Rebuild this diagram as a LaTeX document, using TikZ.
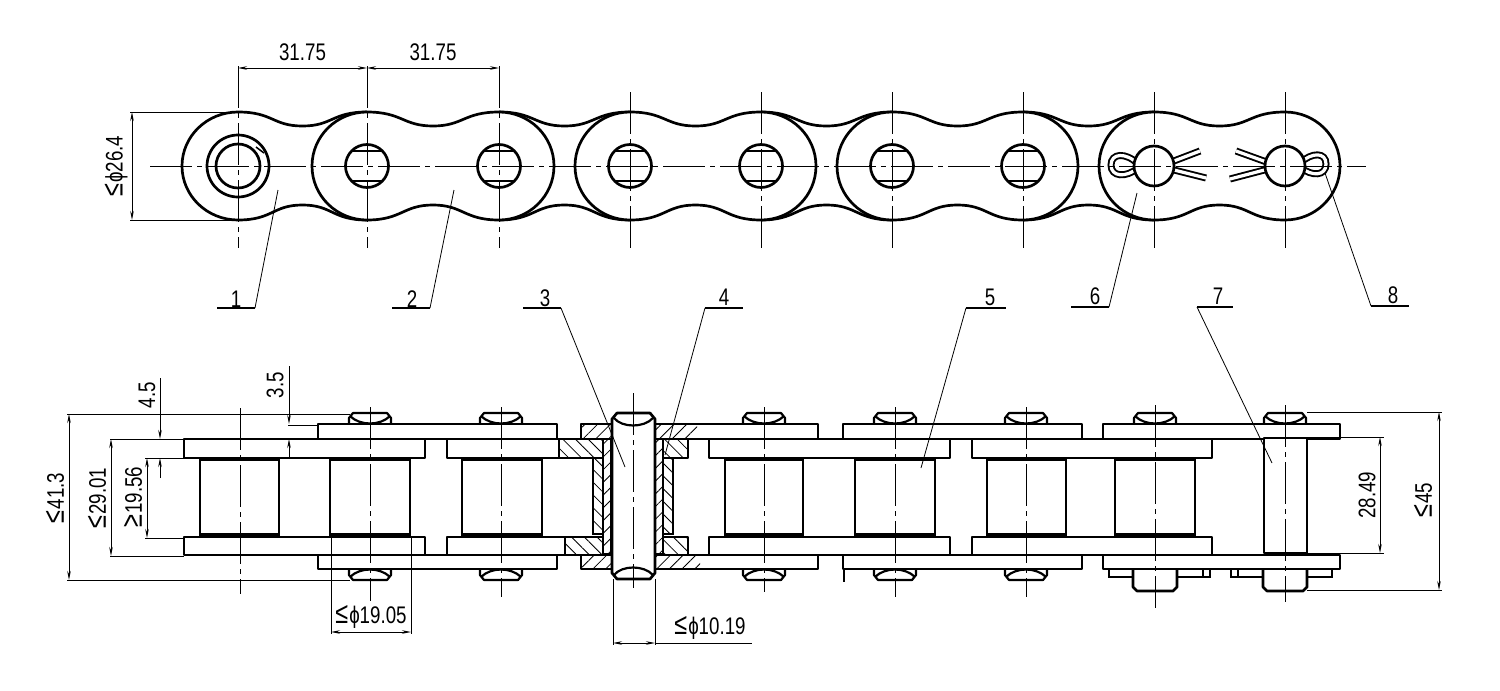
\documentclass[tikz,border=0pt]{standalone}
\usepackage{fontspec}
\setmainfont[FakeStretch=0.78]{Liberation Sans}
\usetikzlibrary{arrows.meta,patterns.meta}

\newcommand{\upto}{{\fontsize{30}{30}\selectfont ≤}\kern1pt}
\newcommand{\atleast}{{\fontsize{30}{30}\selectfont ≥}\kern1pt}
\newcommand{\outerplate}[2]{%
  \pgfmathsetmacro{\mx}{(#1+#2)/2}
  \draw[part] (#1,112) .. controls (#1+35,112) and (\mx-30,126) .. (\mx,126)
    .. controls (\mx+30,126) and (#2-35,112) .. (#2,112)
    arc[start angle=-90,end angle=90,x radius=55,y radius=54]
    .. controls (#2-35,220) and (\mx+30,205) .. (\mx,205)
    .. controls (\mx-30,205) and (#1+35,220) .. (#1,220)
    arc[start angle=90,end angle=270,x radius=55,y radius=54] -- cycle;
}
\newcommand{\innerplate}[2]{%
  \pgfmathsetmacro{\mx}{(#1+#2)/2}
  \draw[part, fill=none] (#1,112) .. controls (#1+35,112) and (\mx-30,126) .. (\mx,126)
    .. controls (\mx+30,126) and (#2-35,112) .. (#2,112);
  \draw[part, fill=none] (#1,220) .. controls (#1+35,220) and (\mx-30,205) .. (\mx,205)
    .. controls (\mx+30,205) and (#2-35,220) .. (#2,220);
}
\newcommand{\pinhead}[1]{%
  \draw[headline] (#1-21,424) -- (#1-21,418) -- (#1-17,413) -- (#1+17,413) -- (#1+21,418) -- (#1+21,424);
  \draw[headline] (#1-20,416) .. controls (#1-10,426) and (#1+10,426) .. (#1+20,416);
}
\newcommand{\pinfoot}[1]{%
  \draw[headline] (#1-21,569) -- (#1-21,575) -- (#1-17,580) -- (#1+17,580) -- (#1+21,575) -- (#1+21,569);
  \draw[headline] (#1-20,577) .. controls (#1-10,567) and (#1+10,567) .. (#1+20,577);
}

\begin{document}
\begin{tikzpicture}[
    x=1pt, y=-1pt,
    >={Stealth[length=9pt,width=3.5pt]},
    part/.style={line width=2.7pt, fill=white, line join=round},
    headline/.style={line width=2.2pt, line join=round},
    axisline/.style={line width=0.8pt, dash pattern=on 42pt off 5pt on 5pt off 5pt},
    extline/.style={line width=0.8pt},
    dimline/.style={line width=0.8pt, <->},
    leader/.style={line width=0.8pt},
    shelf/.style={line width=2.8pt},
    lbl/.style={inner sep=0pt, font=\fontsize{24}{24}\selectfont},
    hatchup/.style={pattern={Lines[angle=45,distance=9pt,line width=0.8pt]}},
    hatchdown/.style={pattern={Lines[angle=-45,distance=9pt,line width=0.8pt]}},
    cotter/.style={line width=1.9pt, double=white, double distance=3.2pt},
]
\useasboundingbox (0,0) rectangle (1500,691);

% top view
\draw[part, fill=none] (238,112) arc[start angle=-90,end angle=-270,x radius=56,y radius=54];
\foreach \a/\b in {238/367,499/630,761/892,1023/1154}{
    \innerplate{\a}{\b}
}
\foreach \a/\b in {367/499,630/761,892/1023,1154/1285}{
    \outerplate{\a}{\b}
}
\draw[part] (238,166) circle[radius=31];
\draw[part] (238,166) circle[radius=22];
\draw[line width=1.5pt] (256,147) -- (264,153);
\foreach \x in {367,499,630,761,892,1023}{
    \draw[part] (\x,166) circle[radius=21.5];
    \draw[line width=2pt] (\x-15,151) -- (\x+15,151);
    \draw[line width=2pt] (\x-15,181) -- (\x+15,181);
}

% cotter pins
\draw[cotter] (1138,164) .. controls (1126,152) and (1111,153) .. (1111,165) .. controls (1111,177) and (1126,178) .. (1138,168);
\draw[cotter] (1300,163) .. controls (1312,152) and (1326,152) .. (1326,164) .. controls (1326,176) and (1312,177) .. (1300,167);
\draw[cotter] (1166,164) -- (1200,151);
\draw[cotter] (1166,168) -- (1206,178);
\draw[cotter] (1272,164) -- (1236,151);
\draw[cotter] (1272,168) -- (1230,179);
\draw[part] (1154,166) circle[radius=20];
\draw[part] (1285,166) circle[radius=20];

\draw[axisline] (150,166) -- (1366,166);
\foreach \x in {238,367,499}{
    \draw[axisline] (\x,66) -- (\x,248);
}
\foreach \x in {630,761,892,1023,1154,1285}{
    \draw[axisline] (\x,92) -- (\x,248);
}

% top dimensions
\draw[dimline] (238,68) -- node[lbl, above=7pt, name=pitchA] {31.75} (367,68);
\draw[dimline] (367,68) -- node[lbl, above=7pt, name=pitchB] {31.75} (499,68);
\draw[extline] (130,112) -- (238,112);
\draw[extline] (130,220) -- (238,220);
\draw[dimline] (132,112) -- (132,220);
\node[lbl, rotate=90, name=plateH] at (116,166) {\upto ϕ26.4};

% side view, pins and rollers
\foreach \x in {370,501,764,895,1026,1155,1285}{
    \pinhead{\x}
}
\foreach \x in {370,501,764,895,1026}{
    \pinfoot{\x}
}
\foreach \a/\b in {200/279,330/410,462/542,725/803,855/935,987/1066,1115/1195}{
    \draw[line width=2.5pt] (\a,458) rectangle (\b,535);
    \draw[line width=4pt] (\a,459) -- (\b,459);
    \draw[line width=4pt] (\a,535) -- (\b,535);
}

% bottom ends of the last link
\draw[line width=2pt] (1109,567) -- (1109,577) -- (1210,577) -- (1210,567);
\draw[line width=2pt] (1203,569) -- (1203,577);
\draw[line width=2pt] (1231,567) -- (1231,577) -- (1332,577) -- (1332,567);
\draw[line width=2pt] (1238,569) -- (1238,577);
\draw[line width=1.5pt] (844,569) -- (844,582);
\foreach \x in {1155,1285}{
    \draw[part] (\x-22,566) -- (\x-22,587) -- (\x-18,591) -- (\x+18,591) -- (\x+22,587) -- (\x+22,566);
}

% side view, plates
\foreach \a/\b in {184/425,447/688,709/950,972/1212}{
    \draw[part] (\a,439) rectangle (\b,458);
    \draw[part] (\a,537) rectangle (\b,555);
}
\foreach \a/\b in {318/557,581/818,843/1082,1103/1340}{
    \draw[part] (\a,424) rectangle (\b,439);
    \draw[part] (\a,555) rectangle (\b,569);
}
\draw[part] (1264,438) rectangle (1307,553);

% section through the pin
\fill[hatchup] (581,424) rectangle (612,439);
\fill[hatchup] (655,424) rectangle (697,439);
\fill[hatchup] (581,555) rectangle (612,569);
\fill[hatchup] (655,555) rectangle (700,569);
\fill[hatchdown] (559,439) rectangle (603,457);
\fill[hatchdown] (663,439) rectangle (688,457);
\fill[hatchdown] (565,538) rectangle (603,555);
\fill[hatchdown] (663,538) rectangle (688,555);
\draw[line width=1.2pt] (559,439) -- (559,458);
\draw[line width=1.2pt] (565,537) -- (565,555);
\foreach \a in {603,655}{
    \draw[part] (\a,439) rectangle ++(8,115);
    \draw[line width=2pt, hatchup] (\a,439) rectangle ++(8,115);
}
\foreach \a in {593,663}{
    \draw[part] (\a,458) rectangle ++(10,76);
    \draw[line width=2pt, hatchdown] (\a,458) rectangle ++(10,76);
}
\draw[part] (612,419) -- (617,413) -- (650,413) -- (655,419) -- (655,573) -- (650,579) -- (617,579) -- (612,573) -- cycle;
\draw[headline] (614,418) .. controls (622,428) and (644,428) .. (653,418);
\draw[headline] (614,575) .. controls (622,565) and (644,565) .. (653,575);

\foreach \x/\ya/\yb in {240/408/594,370/407/601,501/407/597,633/393/588,764/407/592,895/407/597,1026/407/597,1155/405/608,1285/405/602}{
    \draw[axisline] (\x,\ya) -- (\x,\yb);
}

% side dimensions
\draw[extline] (67,414) -- (350,414);
\draw[extline] (67,580) -- (350,580);
\draw[dimline] (69,414) -- (69,580);
\node[lbl, rotate=90, name=totalA] at (55,498) {\upto 41.3};
\draw[extline] (110,439) -- (184,439);
\draw[extline] (110,556) -- (184,556);
\draw[dimline] (111,439) -- (111,556);
\node[lbl, rotate=90, name=innerA] at (97,498) {\upto 29.01};
\draw[extline] (145,458) -- (184,458);
\draw[extline] (145,538) -- (184,538);
\draw[dimline] (147,458) -- (147,538);
\node[lbl, rotate=90, name=innerB] at (133,497) {\atleast 19.56};
\draw[extline, ->] (160,378) -- (160,439);
\draw[extline, ->] (160,478) -- (160,458);
\node[lbl, rotate=90, name=plateA] at (147,395) {4.5};
\draw[extline] (288,425) -- (318,425);
\draw[extline, ->] (289,366) -- (289,424);
\draw[extline, ->] (289,458) -- (289,439);
\node[lbl, rotate=90, name=plateB] at (275,385) {3.5};
\draw[extline] (331,537) -- (331,634);
\draw[extline] (411,537) -- (411,634);
\draw[dimline] (331,632) -- (411,632);
\node[lbl, name=rollerD] at (371,617) {\upto ϕ19.05};
\draw[extline] (613,579) -- (613,645);
\draw[extline] (655,579) -- (655,645);
\draw[dimline] (613,643) -- (655,643);
\draw[extline] (655,643) -- (752,643);
\node[lbl, name=pinD] at (710,628) {\upto ϕ10.19};
\draw[extline] (1307,437) -- (1384,437);
\draw[extline] (1307,553) -- (1384,553);
\draw[dimline] (1380,437) -- (1380,553);
\node[lbl, rotate=90, name=pitchC] at (1367,495) {28.49};
\draw[extline] (1307,412) -- (1442,412);
\draw[extline] (1307,590) -- (1442,590);
\draw[dimline] (1439,412) -- (1439,590);
\node[lbl, rotate=90, name=totalB] at (1423,500) {\upto 45};

% balloons
\foreach \name/\txt/\xa/\xb/\ya/\yl/\xl/\xs/\xf/\yf in {
    one/1/217/255/308/299/236/255/278/190,
    two/2/392/430/308/299/412/430/454/190,
    three/3/523/561/308/298/545/561/625/467,
    four/4/705/743/308/297/724/705/665/455,
    five/5/966/1006/308/297/990/966/921/468,
    six/6/1071/1109/307/296/1095/1109/1137/193,
    seven/7/1197/1233/307/296/1218/1197/1272/463,
    eight/8/1371/1409/306/295/1393/1371/1325/173}{
    \draw[shelf] (\xa,\ya) -- (\xb,\ya);
    \node[lbl, name=\name] at (\xl,\yl) {\txt};
    \draw[leader] (\xs,\ya) -- (\xf,\yf);
}

\end{tikzpicture}
\end{document}
